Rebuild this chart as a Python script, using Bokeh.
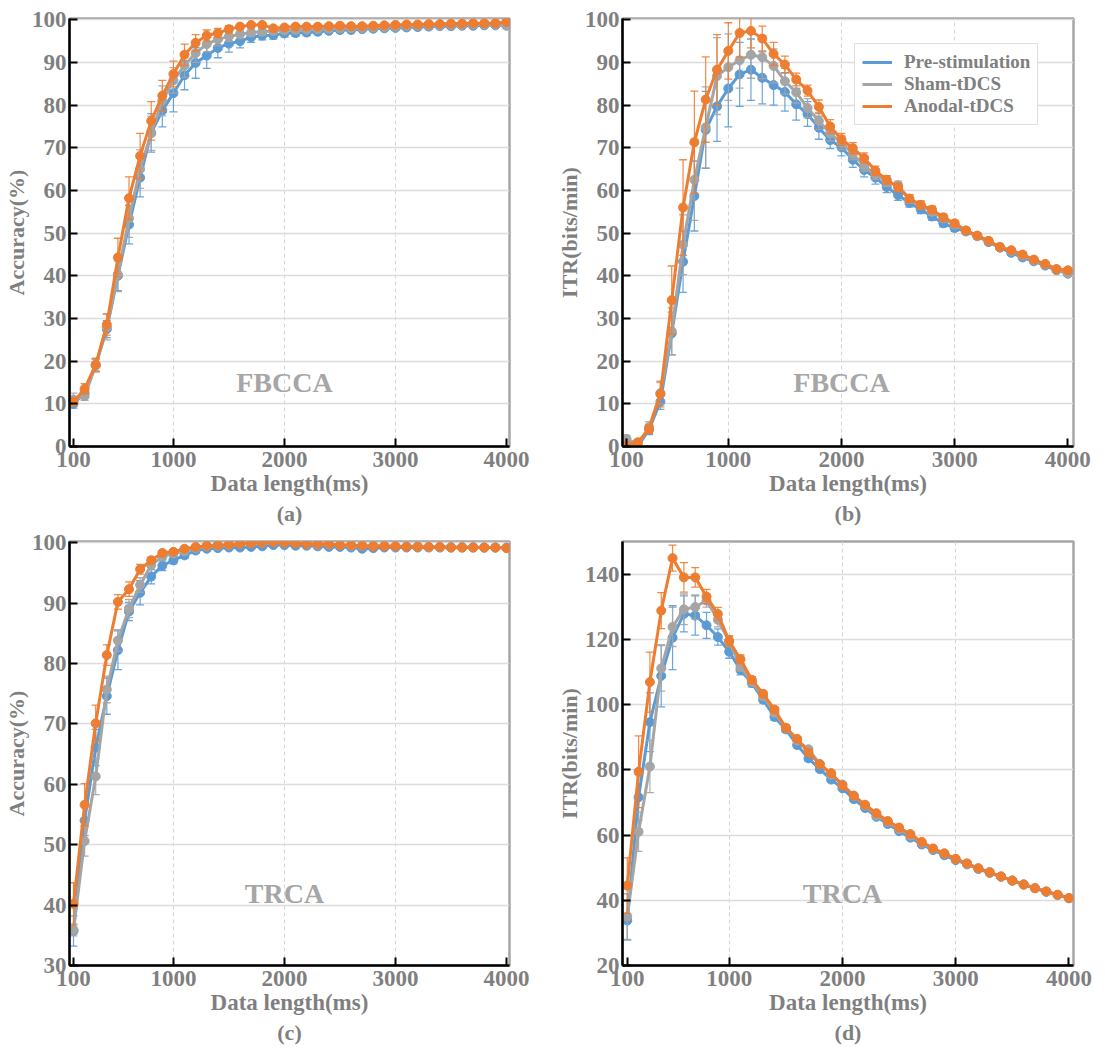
from bokeh.plotting import figure
from bokeh.layouts import column, row
from bokeh.models import Range1d, FixedTicker, Label, Title, Legend, LegendItem
from bokeh.embed import file_html
from bokeh.resources import INLINE

# ---------------- data ----------------
data_length = [100, 200, 300, 400, 500, 600, 700, 800, 900, 1000,
               1100, 1200, 1300, 1400, 1500, 1600, 1700, 1800, 1900, 2000,
               2100, 2200, 2300, 2400, 2500, 2600, 2700, 2800, 2900, 3000,
               3100, 3200, 3300, 3400, 3500, 3600, 3700, 3800, 3900, 4000]
x_tick_values = [100, 1000, 2000, 3000, 4000]
x_grid_values = [1000, 2000, 3000]
series_names = ["Pre-stimulation", "Sham-tDCS", "Anodal-tDCS"]
series_colors = ["#5B9BD5", "#A5A5A5", "#ED7D31"]

# (a) Accuracy, FBCCA
acc_fb_pre = [10.0, 12.5, 19.0, 27.5, 40.0, 52.0, 63.0, 73.5, 78.7, 82.8,
              87.0, 89.9, 91.6, 93.4, 94.4, 95.0, 95.9, 96.3, 96.4, 96.8,
              96.9, 97.0, 97.2, 97.4, 97.6, 97.6, 97.8, 97.9, 98.0, 98.1,
              98.2, 98.3, 98.4, 98.5, 98.5, 98.6, 98.6, 98.7, 98.7, 98.7]
acc_fb_sham = [11.0, 11.8, 19.0, 28.0, 40.3, 53.5, 65.0, 73.4, 81.0, 85.8,
               89.3, 92.2, 94.3, 95.4, 96.1, 96.6, 97.0, 97.2, 97.4, 97.5,
               97.6, 97.7, 97.8, 97.9, 98.0, 98.0, 98.1, 98.2, 98.3, 98.4,
               98.5, 98.6, 98.7, 98.7, 98.8, 98.8, 98.9, 98.9, 98.9, 98.6]
acc_fb_ano = [10.5, 13.5, 19.2, 28.6, 44.3, 58.2, 68.1, 76.3, 82.2, 87.3,
              91.8, 94.6, 96.3, 96.9, 97.8, 98.4, 98.8, 98.8, 98.0, 98.2,
              98.4, 98.4, 98.4, 98.5, 98.6, 98.5, 98.5, 98.6, 98.7, 98.8,
              98.9, 98.9, 99.0, 99.0, 99.1, 99.1, 99.2, 99.2, 99.2, 99.5]
err_acc_fb_pre = [1.0, 1.0, 1.5, 2.0, 3.5, 4.5, 4.5, 4.5, 3.8, 4.4,
                  3.4, 3.6, 3.0, 2.3, 2.0, 1.6, 1.2, 1.0, 0.9, 0.8,
                  0.8, 0.7, 0.7, 0.6, 0.6, 0.6, 0.5, 0.5, 0.5, 0.5,
                  0.5, 0.5, 0.5, 0.5, 0.5, 0.5, 0.5, 0.5, 0.5, 0.5]
err_acc_fb_sham = [1.5, 1.0, 1.5, 3.0, 4.0, 4.5, 4.5, 4.0, 3.5, 3.0,
                   2.8, 2.2, 1.8, 1.5, 1.2, 1.0, 0.9, 0.8, 0.8, 0.7,
                   0.7, 0.7, 0.6, 0.6, 0.6, 0.6, 0.5, 0.5, 0.5, 0.5,
                   0.5, 0.5, 0.5, 0.5, 0.5, 0.5, 0.5, 0.5, 0.5, 0.5]
err_acc_fb_ano = [0.8, 1.2, 1.5, 2.5, 4.5, 5.0, 5.3, 4.5, 3.6, 3.0,
                  2.5, 1.9, 1.3, 1.1, 0.8, 0.6, 0.5, 0.5, 0.5, 0.5,
                  0.5, 0.5, 0.5, 0.5, 0.5, 0.5, 0.5, 0.5, 0.5, 0.5,
                  0.5, 0.5, 0.5, 0.5, 0.5, 0.5, 0.5, 0.5, 0.5, 0.5]

# (b) ITR, FBCCA
itr_fb_pre = [1.0, 0.0, 4.0, 10.5, 26.5, 43.3, 58.7, 74.2, 79.7, 83.9,
              87.2, 88.3, 86.4, 84.7, 83.1, 80.2, 77.9, 74.7, 71.8, 70.1,
              67.2, 64.8, 63.0, 60.8, 58.9, 57.1, 55.6, 53.9, 52.3, 51.2,
              50.4, 49.3, 47.9, 46.6, 45.4, 44.3, 43.4, 42.4, 41.3, 40.5]
itr_fb_sham = [1.8, 0.5, 4.5, 12.5, 27.0, 47.3, 62.5, 74.8, 86.8, 88.9,
               90.5, 91.8, 91.2, 89.2, 85.6, 83.0, 79.3, 76.3, 73.4, 71.2,
               68.6, 65.8, 63.8, 62.0, 61.2, 58.0, 56.6, 55.0, 53.5, 52.0,
               50.6, 49.4, 48.1, 46.8, 45.8, 44.7, 43.6, 42.6, 41.4, 40.6]
itr_fb_ano = [0.3, 1.0, 4.1, 12.3, 34.3, 56.0, 71.3, 81.3, 88.3, 92.7,
              96.9, 97.4, 95.6, 92.0, 89.5, 86.0, 83.4, 79.6, 75.0, 72.0,
              69.9, 67.6, 64.6, 62.5, 60.7, 58.1, 56.6, 55.5, 53.7, 52.3,
              50.6, 49.4, 48.2, 46.7, 46.0, 45.0, 43.8, 42.8, 41.6, 41.3]
err_itr_fb_pre = [0.8, 0.6, 1.2, 1.8, 5.0, 7.2, 8.2, 9.0, 8.2, 9.0,
                  7.5, 7.2, 6.1, 4.7, 4.5, 3.7, 2.9, 2.7, 2.0, 2.0,
                  1.8, 1.6, 1.5, 1.3, 1.2, 1.0, 1.0, 0.9, 0.8, 0.8,
                  0.7, 0.7, 0.6, 0.6, 0.6, 0.5, 0.5, 0.5, 0.5, 0.5]
err_itr_fb_sham = [0.8, 0.5, 1.3, 2.5, 5.5, 7.0, 9.5, 9.5, 9.0, 7.8,
                   6.5, 5.5, 5.0, 4.0, 3.0, 2.5, 2.2, 2.0, 1.8, 1.6,
                   1.4, 1.3, 1.2, 1.1, 1.0, 1.0, 0.9, 0.8, 0.8, 0.7,
                   0.7, 0.6, 0.6, 0.6, 0.5, 0.5, 0.5, 0.5, 0.5, 0.5]
err_itr_fb_ano = [0.5, 0.6, 1.0, 3.0, 8.0, 11.2, 12.0, 10.0, 8.2, 6.6,
                  5.6, 4.0, 2.9, 2.7, 2.0, 1.5, 1.3, 1.6, 1.6, 1.4,
                  1.3, 1.2, 1.1, 1.0, 1.0, 0.9, 0.9, 0.8, 0.8, 0.7,
                  0.7, 0.6, 0.6, 0.6, 0.5, 0.5, 0.5, 0.5, 0.5, 0.5]

# (c) Accuracy, TRCA
acc_tr_pre = [35.7, 54.0, 66.1, 74.6, 82.2, 88.6, 91.7, 94.4, 96.2, 97.1,
              97.9, 98.7, 99.0, 99.1, 99.2, 99.2, 99.3, 99.4, 99.6, 99.6,
              99.5, 99.5, 99.4, 99.3, 99.3, 99.2, 99.0, 99.1, 99.2, 99.2,
              99.2, 99.2, 99.2, 99.2, 99.2, 99.2, 99.2, 99.2, 99.2, 99.2]
acc_tr_sham = [35.9, 50.6, 61.3, 75.7, 83.8, 89.1, 93.0, 96.3, 97.7, 98.2,
               98.6, 99.1, 99.4, 99.5, 99.6, 99.8, 99.9, 100.0, 100.1, 100.0,
               99.9, 99.8, 99.7, 99.7, 99.6, 99.5, 99.5, 99.5, 99.5, 99.4,
               99.4, 99.4, 99.3, 99.3, 99.3, 99.3, 99.3, 99.2, 99.2, 99.2]
acc_tr_ano = [40.2, 56.6, 70.1, 81.4, 90.2, 92.3, 95.6, 97.1, 98.3, 98.5,
              99.0, 99.3, 99.5, 99.6, 99.7, 99.8, 99.9, 100.0, 100.1, 100.0,
              99.9, 99.8, 99.8, 99.8, 99.6, 99.6, 99.5, 99.4, 99.4, 99.4,
              99.3, 99.3, 99.3, 99.3, 99.2, 99.2, 99.2, 99.2, 99.2, 99.1]
err_acc_tr_pre = [2.5, 2.5, 3.0, 3.0, 3.2, 1.5, 2.0, 1.2, 0.8, 0.6,
                  0.5, 0.4, 0.3, 0.3, 0.3, 0.3, 0.3, 0.3, 0.3, 0.3,
                  0.3, 0.3, 0.3, 0.3, 0.3, 0.3, 0.3, 0.3, 0.3, 0.3,
                  0.3, 0.3, 0.3, 0.3, 0.3, 0.3, 0.3, 0.3, 0.3, 0.3]
err_acc_tr_sham = [1.0, 2.5, 3.0, 2.2, 1.8, 1.5, 1.2, 0.8, 0.5, 0.4,
                   0.3, 0.3, 0.3, 0.3, 0.3, 0.3, 0.3, 0.3, 0.3, 0.3,
                   0.3, 0.3, 0.3, 0.3, 0.3, 0.3, 0.3, 0.3, 0.3, 0.3,
                   0.3, 0.3, 0.3, 0.3, 0.3, 0.3, 0.3, 0.3, 0.3, 0.3]
err_acc_tr_ano = [3.5, 3.5, 3.0, 1.7, 1.2, 1.2, 0.8, 0.5, 0.4, 0.3,
                  0.3, 0.3, 0.3, 0.3, 0.3, 0.3, 0.3, 0.3, 0.3, 0.3,
                  0.3, 0.3, 0.3, 0.3, 0.3, 0.3, 0.3, 0.3, 0.3, 0.3,
                  0.3, 0.3, 0.3, 0.3, 0.3, 0.3, 0.3, 0.3, 0.3, 0.3]

# (d) ITR, TRCA
itr_tr_pre = [33.8, 71.6, 94.6, 108.8, 120.5, 127.8, 127.3, 124.3, 120.7, 116.2,
              110.6, 106.6, 101.5, 96.2, 92.4, 87.6, 83.5, 80.2, 77.0, 74.3,
              71.0, 68.3, 65.6, 63.4, 61.2, 59.2, 57.1, 55.4, 53.8, 52.3,
              51.0, 49.6, 48.4, 47.2, 46.0, 44.8, 43.7, 42.6, 41.6, 40.6]
itr_tr_sham = [35.0, 61.0, 81.0, 111.1, 123.8, 129.2, 129.9, 131.9, 126.0, 119.3,
               111.5, 107.0, 102.5, 97.5, 92.9, 89.0, 86.3, 81.8, 78.5, 75.5,
               72.0, 69.0, 66.0, 64.0, 61.8, 59.8, 57.6, 55.7, 54.3, 52.6,
               51.2, 49.8, 48.7, 47.3, 46.1, 44.9, 43.8, 42.7, 41.7, 40.7]
itr_tr_ano = [44.5, 79.4, 106.9, 128.8, 144.9, 139.0, 139.0, 133.1, 127.8, 119.5,
              113.9, 107.6, 103.3, 98.5, 92.9, 89.5, 85.3, 81.7, 79.0, 75.2,
              72.1, 69.3, 66.7, 64.3, 62.3, 60.3, 57.9, 55.9, 54.4, 52.7,
              51.3, 49.8, 48.5, 47.3, 46.0, 44.8, 43.7, 42.7, 41.7, 40.7]
err_itr_tr_pre = [6.0, 7.0, 9.0, 9.5, 9.8, 5.5, 6.0, 4.0, 2.5, 2.0,
                  1.5, 1.2, 1.0, 1.0, 0.9, 0.8, 0.8, 0.7, 0.7, 0.6,
                  0.6, 0.6, 0.5, 0.5, 0.5, 0.5, 0.5, 0.5, 0.5, 0.5,
                  0.5, 0.5, 0.5, 0.5, 0.5, 0.5, 0.5, 0.5, 0.5, 0.5]
err_itr_tr_sham = [7.0, 6.0, 8.0, 7.0, 6.0, 4.7, 3.7, 2.0, 2.2, 1.5,
                   1.2, 1.0, 0.9, 0.8, 0.8, 0.7, 0.7, 0.6, 0.6, 0.6,
                   0.5, 0.5, 0.5, 0.5, 0.5, 0.5, 0.5, 0.5, 0.5, 0.5,
                   0.5, 0.5, 0.5, 0.5, 0.5, 0.5, 0.5, 0.5, 0.5, 0.5]
err_itr_tr_ano = [8.5, 11.0, 9.2, 5.5, 4.0, 4.5, 3.0, 2.2, 2.0, 1.6,
                  1.3, 1.0, 0.9, 0.8, 0.8, 0.7, 0.7, 0.6, 0.6, 0.6,
                  0.5, 0.5, 0.5, 0.5, 0.5, 0.5, 0.5, 0.5, 0.5, 0.5,
                  0.5, 0.5, 0.5, 0.5, 0.5, 0.5, 0.5, 0.5, 0.5, 0.5]

# ---------------- styling ----------------
FONT = "Liberation Serif"
TXT = "#7f7f7f"
METHOD_COLOR = "#a6a6a6"


def make_panel(ys, errs, x_rng, y_rng, y_ticks, y_label, method, method_y, caption,
               w, h, bl, bt, br, bb, show_legend=False):
    p = figure(width=w, height=h,
               x_range=Range1d(*x_rng), y_range=Range1d(*y_rng),
               output_backend="svg", toolbar_location=None,
               min_border_left=bl, min_border_top=bt,
               min_border_right=br, min_border_bottom=bb,
               background_fill_color="white", border_fill_color="white")
    p.outline_line_color = "#a6a6a6"
    p.outline_line_width = 2.5

    p.xaxis.ticker = FixedTicker(ticks=x_tick_values)
    p.yaxis.ticker = FixedTicker(ticks=y_ticks)
    p.xgrid.ticker = FixedTicker(ticks=x_grid_values)
    p.xgrid.grid_line_color = "#d4d4d4"
    p.xgrid.grid_line_dash = "4 3"
    p.xgrid.grid_line_width = 1
    p.ygrid.grid_line_color = "#dcdcdc"
    p.ygrid.grid_line_width = 1.5

    for ax in (p.xaxis[0], p.yaxis[0]):
        ax.axis_line_color = "black"
        ax.axis_line_width = 2.5
        ax.major_tick_line_color = "black"
        ax.major_tick_line_width = 2
        ax.major_tick_in = 8
        ax.major_tick_out = 0
        ax.minor_tick_line_color = None
        ax.major_label_text_font = FONT
        ax.major_label_text_font_style = "bold"
        ax.major_label_text_font_size = "23px"
        ax.major_label_text_color = TXT
        ax.axis_label_text_font = FONT
        ax.axis_label_text_font_style = "bold"
        ax.axis_label_text_font_size = "23px"
        ax.axis_label_text_color = TXT
        ax.axis_label_standoff = 0
    p.yaxis.axis_label_text_font_size = "22px"
    p.xaxis.major_label_standoff = 5
    p.xaxis.axis_label_standoff = 1
    p.yaxis.major_label_standoff = 3
    p.xaxis.axis_label = "Data length(ms)"
    p.yaxis.axis_label = y_label

    items = []
    for y, e, name, color in zip(ys, errs, series_names, series_colors):
        lower = [a - b for a, b in zip(y, e)]
        upper = [a + b for a, b in zip(y, e)]
        p.segment(data_length, lower, data_length, upper, line_color=color,
                  line_width=1.2, line_alpha=0.9)
        p.scatter(data_length, upper, marker="dash", size=8, line_color=color,
                  line_width=1.3, line_alpha=0.9)
        p.scatter(data_length, lower, marker="dash", size=8, line_color=color,
                  line_width=1.3, line_alpha=0.9)
        r = p.line(data_length, y, line_color=color, line_width=3)
        p.scatter(data_length, y, size=9, fill_color=color, line_color=color)
        items.append(LegendItem(label=name, renderers=[r]))

    p.add_layout(Label(x=2000, y=method_y, text=method, text_font=FONT,
                       text_font_style="bold", text_font_size="28px",
                       text_color=METHOD_COLOR, text_align="center",
                       text_baseline="middle"))

    if show_legend:
        leg = Legend(items=items, location=(232, 321),
                     label_text_font=FONT, label_text_font_style="bold",
                     label_text_font_size="19px", label_text_color=TXT,
                     glyph_width=30, glyph_height=20, label_height=20,
                     spacing=0, padding=7, label_standoff=12,
                     border_line_color="#bfbfbf", border_line_width=1.5,
                     background_fill_color="white", background_fill_alpha=1)
        p.add_layout(leg, "center")

    p.add_layout(Title(text=caption, align="center", text_font=FONT,
                       text_font_style="bold", text_font_size="22px",
                       text_color=TXT, standoff=0, offset=0), "below")
    return p


acc_ticks_full = [0, 10, 20, 30, 40, 50, 60, 70, 80, 90, 100]
acc_ticks_tr = [30, 40, 50, 60, 70, 80, 90, 100]
itr_ticks_tr = [20, 40, 60, 80, 100, 120, 140]

# row 1: top 18 + frame 428 + bottom 83 ; row 2: top 12 + frame 424 + bottom 83
pa = make_panel([acc_fb_pre, acc_fb_sham, acc_fb_ano],
                [err_acc_fb_pre, err_acc_fb_sham, err_acc_fb_ano],
                (64, 4027), (0, 100.3), acc_ticks_full, "Accuracy(%)",
                "FBCCA", 15, "(a)", 539, 529, 67, 18, 30, 83)
pb = make_panel([itr_fb_pre, itr_fb_sham, itr_fb_ano],
                [err_itr_fb_pre, err_itr_fb_sham, err_itr_fb_ano],
                (65, 4050), (0, 100.3), acc_ticks_full, "ITR(bits/min)",
                "FBCCA", 15, "(b)", 564, 529, 83, 18, 30, 83, show_legend=True)
pc = make_panel([acc_tr_pre, acc_tr_sham, acc_tr_ano],
                [err_acc_tr_pre, err_acc_tr_sham, err_acc_tr_ano],
                (64, 4027), (30, 100.2), acc_ticks_tr, "Accuracy(%)",
                "TRCA", 42, "(c)", 539, 519, 67, 12, 30, 83)
pd_ = make_panel([itr_tr_pre, itr_tr_sham, itr_tr_ano],
                 [err_itr_tr_pre, err_itr_tr_sham, err_itr_tr_ano],
                 (58, 4040), (20, 150), itr_ticks_tr, "ITR(bits/min)",
                 "TRCA", 42, "(d)", 564, 519, 83, 12, 30, 83)

layout = column(row(pa, pb), row(pc, pd_))

open("out.html", "w").write(file_html(layout, INLINE))
